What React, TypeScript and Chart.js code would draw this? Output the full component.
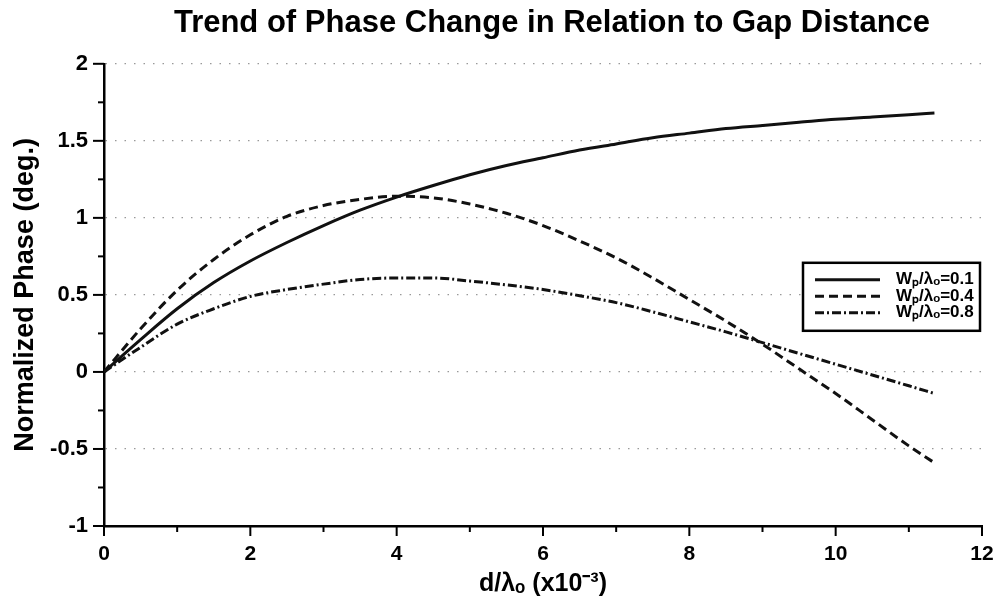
import React, { useEffect, useRef } from "react";
import { Chart, registerables } from "chart.js";

Chart.register(...registerables);

// ---- Data ----
const xValues = [0, 0.5, 1, 1.5, 2, 2.5, 3, 3.5, 4, 4.5, 5, 5.5, 6, 6.5, 7, 7.5, 8, 8.5, 9, 9.5, 10, 10.5, 11, 11.35];
const phaseW01 = [0, 0.21, 0.41, 0.58, 0.72, 0.84, 0.95, 1.05, 1.135, 1.21, 1.28, 1.34, 1.39, 1.44, 1.48, 1.52, 1.55, 1.58, 1.6, 1.62, 1.64, 1.655, 1.67, 1.68];
const phaseW04 = [0, 0.28, 0.53, 0.73, 0.89, 1.01, 1.08, 1.12, 1.14, 1.13, 1.09, 1.03, 0.95, 0.85, 0.74, 0.61, 0.47, 0.33, 0.18, 0.02, -0.14, -0.31, -0.48, -0.59];
const phaseW08 = [0, 0.16, 0.31, 0.41, 0.49, 0.535, 0.57, 0.6, 0.61, 0.61, 0.59, 0.565, 0.535, 0.495, 0.45, 0.39, 0.325, 0.26, 0.19, 0.12, 0.05, -0.02, -0.09, -0.14];
const seriesLabels = ["Wₚ/λₒ=0.1", "Wₚ/λₒ=0.4", "Wₚ/λₒ=0.8"];
const chartTitle = "Trend of Phase Change in Relation to Gap Distance";
const xAxisTitle = "d/λₒ (x10⁻³)";
const yAxisTitle = "Normalized Phase (deg.)";
const xTickLabels = ["0", "2", "4", "6", "8", "10", "12"];
const yTickLabels = ["-1", "-0.5", "0", "0.5", "1", "1.5", "2"];

const FONT = "'Liberation Sans', Arial, Helvetica, sans-serif";

const fmt = (v: number) => String(Math.round(v * 100) / 100);
const isMajorX = (v: number) => xTickLabels.includes(fmt(v));
const isMajorY = (v: number) => yTickLabels.includes(fmt(v));

const tickMarksPlugin = {
  id: "tickMarks",
  afterDraw(chart: any) {
    const { ctx } = chart;
    const xs = chart.scales.x;
    const ys = chart.scales.y;
    ctx.save();
    ctx.strokeStyle = "#000";
    ctx.lineWidth = 2;
    ctx.setLineDash([]);
    ys.ticks.forEach((t: any) => {
      const py = ys.getPixelForValue(t.value);
      const len = isMajorY(t.value) ? 11 : 6;
      ctx.beginPath();
      ctx.moveTo(ys.right - len, py);
      ctx.lineTo(ys.right, py);
      ctx.stroke();
    });
    xs.ticks.forEach((t: any) => {
      const px = xs.getPixelForValue(t.value);
      const len = isMajorX(t.value) ? 10 : 6;
      ctx.beginPath();
      ctx.moveTo(px, xs.top);
      ctx.lineTo(px, xs.top + len);
      ctx.stroke();
    });
    ctx.restore();
  },
};

const titlePlugin = {
  id: "customTitle",
  afterDraw(chart: any) {
    const { ctx, chartArea } = chart;
    ctx.save();
    ctx.fillStyle = "#000";
    ctx.font = `bold 31px ${FONT}`;
    ctx.textAlign = "center";
    ctx.textBaseline = "alphabetic";
    ctx.fillText(chartTitle, (chartArea.left + chartArea.right) / 2 + 9, 32);
    ctx.restore();
  },
};

const boxLegendPlugin = {
  id: "boxLegend",
  afterDraw(chart: any) {
    const { ctx, chartArea } = chart;
    const bw = 177;
    const bh = 68;
    const bx = chartArea.right - 179;
    const by = chartArea.top + 199;
    ctx.save();
    ctx.fillStyle = "#fff";
    ctx.fillRect(bx, by, bw, bh);
    ctx.strokeStyle = "#000";
    ctx.lineWidth = 2.5;
    ctx.setLineDash([]);
    ctx.strokeRect(bx, by, bw, bh);
    chart.data.datasets.forEach((ds: any, i: number) => {
      const ly = by + 17 + i * 16.5;
      ctx.beginPath();
      ctx.setLineDash(ds.borderDash || []);
      ctx.lineWidth = 3;
      ctx.strokeStyle = "#111";
      ctx.moveTo(bx + 12, ly);
      ctx.lineTo(bx + 77, ly);
      ctx.stroke();
      ctx.setLineDash([]);
      ctx.fillStyle = "#000";
      ctx.font = `bold 17px ${FONT}`;
      ctx.textBaseline = "middle";
      ctx.textAlign = "left";
      ctx.fillText(ds.label, bx + 93, ly);
    });
    ctx.restore();
  },
};

export default function App() {
  const canvasRef = useRef<HTMLCanvasElement | null>(null);

  useEffect(() => {
    if (!canvasRef.current) return;
    const mk = (ys: number[]) => xValues.map((x, i) => ({ x, y: ys[i] }));
    const chart = new Chart(canvasRef.current, {
      type: "line",
      data: {
        datasets: [
          { label: seriesLabels[0], data: mk(phaseW01), borderColor: "#111", borderWidth: 3, borderDash: [], pointRadius: 0, cubicInterpolationMode: "monotone", fill: false },
          { label: seriesLabels[1], data: mk(phaseW04), borderColor: "#111", borderWidth: 3, borderDash: [9, 5], pointRadius: 0, cubicInterpolationMode: "monotone", fill: false },
          { label: seriesLabels[2], data: mk(phaseW08), borderColor: "#111", borderWidth: 3, borderDash: [9, 3, 2, 3], pointRadius: 0, cubicInterpolationMode: "monotone", fill: false },
        ],
      },
      options: {
        animation: false,
        responsive: true,
        maintainAspectRatio: false,
        layout: { padding: { top: 0, right: 0, bottom: 0, left: 0 } },
        plugins: {
          legend: { display: false },
          tooltip: { enabled: false },
          title: {
            display: true,
            text: chartTitle,
            color: "rgba(0,0,0,0)",
            font: { family: FONT, size: 29, weight: "bold" },
            padding: { top: 6, bottom: 23 },
          },
        },
        scales: {
          x: {
            type: "linear",
            min: 0,
            max: 12,
            afterFit: (s: any) => { s.height = 77; s.paddingRight = 16; },
            ticks: {
              stepSize: 1,
              autoSkip: false,
              maxRotation: 0,
              padding: 16,
              color: "#000",
              font: { family: FONT, size: 21, weight: "bold" },
              callback: (v: any) => (isMajorX(Number(v)) ? fmt(Number(v)) : ""),
            },
            grid: { display: true, drawTicks: false, color: "rgba(0,0,0,0)" },
            border: { display: true, color: "#000", width: 2.5 },
            title: {
              display: true,
              text: xAxisTitle,
              color: "#000",
              font: { family: FONT, size: 25, weight: "bold" },
              padding: { top: 0, bottom: 4 },
            },
          },
          y: {
            type: "linear",
            min: -1,
            max: 2,
            afterFit: (s: any) => { s.width = 104; },
            ticks: {
              stepSize: 0.25,
              autoSkip: false,
              padding: 16,
              color: "#000",
              font: { family: FONT, size: 22, weight: "bold" },
              callback: (v: any) => (isMajorY(Number(v)) ? fmt(Number(v)) : ""),
            },
            grid: {
              display: true,
              drawTicks: false,
              lineWidth: 1.2,
              color: (c: any) => {
                const v = c.tick ? c.tick.value : NaN;
                return isMajorY(v) && v > -1 ? "rgba(0,0,0,0.4)" : "rgba(0,0,0,0)";
              },
            },
            border: { display: true, color: "#000", width: 2.5, dash: [1.5, 8] },
            title: {
              display: true,
              text: yAxisTitle,
              color: "#000",
              font: { family: FONT, size: 27, weight: "bold" },
              padding: { top: 9, bottom: 0 },
            },
          },
        },
      },
      plugins: [tickMarksPlugin, titlePlugin, boxLegendPlugin],
    } as any);
    return () => chart.destroy();
  }, []);

  return (
    <div style={{ position: "fixed", left: 0, top: 0, width: 998, height: 603, background: "#fff" }}>
      <canvas ref={canvasRef} />
    </div>
  );
}
